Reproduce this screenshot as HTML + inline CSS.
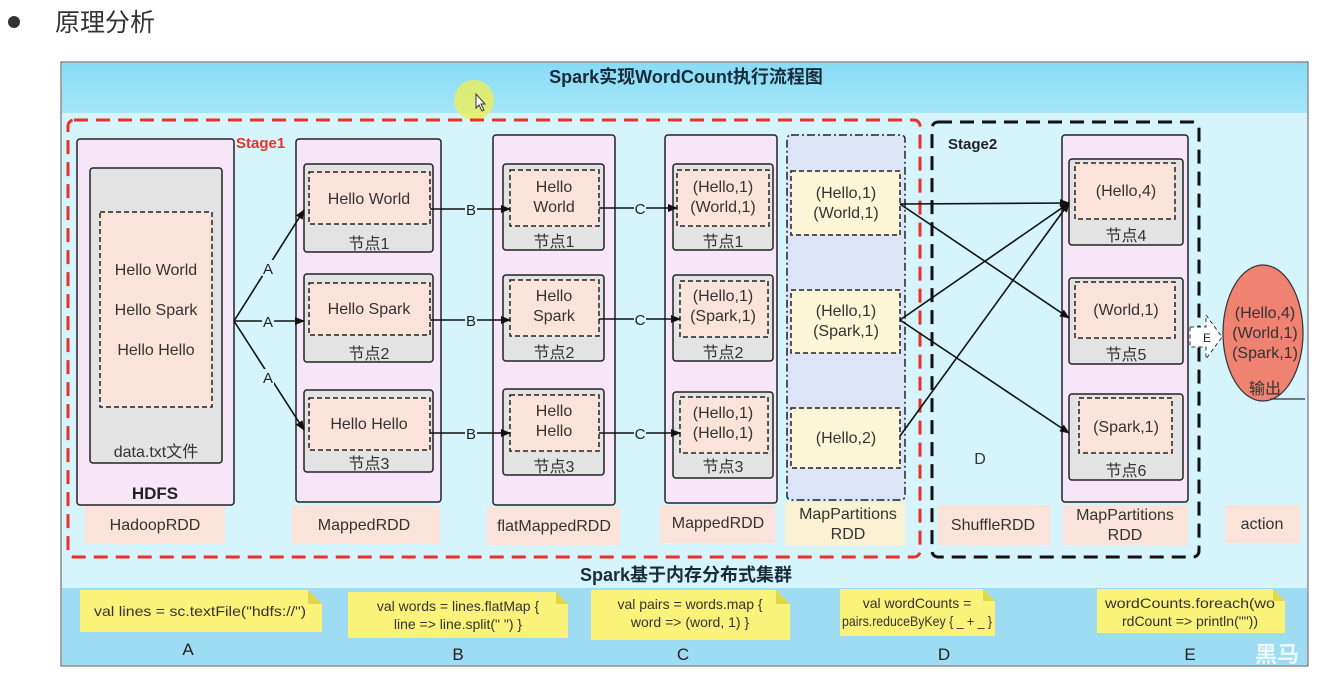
<!DOCTYPE html>
<html><head><meta charset="utf-8"><style>
body{margin:0;background:#fff;}
svg text{font-family:"Liberation Sans","Noto Sans CJK SC",sans-serif;}
</style></head><body>
<svg width="1329" height="674" viewBox="0 0 1329 674" xmlns="http://www.w3.org/2000/svg">
<defs>
<marker id="ah" markerWidth="10" markerHeight="8" refX="9" refY="4" orient="auto" markerUnits="userSpaceOnUse"><path d="M0,0 L10,4 L0,8 z" fill="#111"/></marker>
<linearGradient id="top" x1="0" y1="0" x2="0" y2="1"><stop offset="0" stop-color="#86dcf5"/><stop offset="1" stop-color="#a6e6f8"/></linearGradient>
</defs>
<rect width="1329" height="674" fill="#fff"/>
<circle cx="14" cy="22" r="6" fill="#333"/>
<text x="55" y="31" font-size="25" fill="#333">原理分析</text>
<rect x="61" y="62" width="1247" height="604" fill="#d6f4fc" stroke="#555" stroke-width="1"/>
<rect x="62" y="63" width="1245" height="50" fill="url(#top)"/>
<rect x="62" y="588" width="1245" height="77" fill="#9ddcf2"/>
<text x="686" y="83" font-size="18" font-weight="bold" text-anchor="middle" fill="#1a2a3a">Spark实现WordCount执行流程图</text>
<circle cx="474" cy="100" r="20" fill="#e8ee60" opacity="0.85"/>
<path d="M476,94 l0,14 l3,-3 l3,6 l2,-1 l-3,-6 l4,0 z" fill="#fff" stroke="#333" stroke-width="1"/>
<rect x="68" y="120" width="852" height="437" rx="6" fill="none" stroke="#e8312a" stroke-width="3" stroke-dasharray="14,8"/>
<text x="236" y="148" font-size="15" font-weight="bold" fill="#e8312a">Stage1</text>
<rect x="932" y="122" width="267" height="435" rx="6" fill="none" stroke="#111" stroke-width="3" stroke-dasharray="14,8"/>
<text x="948" y="149" font-size="15" font-weight="bold" fill="#222">Stage2</text>
<rect x="77" y="139" width="157" height="366" rx="3" fill="#f6e6f8" stroke="#222" stroke-width="1.5"/>
<rect x="90" y="168" width="132" height="295" rx="3" fill="#e3e3e3" stroke="#222" stroke-width="1.5"/>
<rect x="100" y="212" width="112" height="195" fill="#fbe3da" stroke="#222" stroke-width="1.5" stroke-dasharray="5,3"/>
<g font-size="16" fill="#333" text-anchor="middle">
<text x="156" y="275">Hello World</text><text x="156" y="315">Hello Spark</text><text x="156" y="355">Hello Hello</text>
<text x="156" y="457">data.txt文件</text>
</g>
<text x="155" y="499" font-size="17" font-weight="bold" text-anchor="middle" fill="#222">HDFS</text>
<rect x="296" y="139" width="145" height="363" rx="3" fill="#f6e6f8" stroke="#222" stroke-width="1.5"/>
<rect x="493" y="135" width="122" height="370" rx="3" fill="#f6e6f8" stroke="#222" stroke-width="1.5"/>
<rect x="665" y="135" width="112" height="368" rx="3" fill="#f6e6f8" stroke="#222" stroke-width="1.5"/>
<rect x="787" y="135" width="118" height="365" rx="4" fill="#dde4f8" stroke="#222" stroke-width="1.5" stroke-dasharray="8,3,2,3"/>
<rect x="1062" y="135" width="126" height="367" rx="3" fill="#f6e6f8" stroke="#222" stroke-width="1.5"/>
<g stroke="#222" stroke-width="1.5">
<rect x="304" y="164" width="129" height="88" rx="3" fill="#e3e3e3"/>
<rect x="304" y="274" width="129" height="88" rx="3" fill="#e3e3e3"/>
<rect x="304" y="390" width="129" height="82" rx="3" fill="#e3e3e3"/>
<rect x="503" y="164" width="101" height="86" rx="3" fill="#e3e3e3"/>
<rect x="503" y="275" width="101" height="86" rx="3" fill="#e3e3e3"/>
<rect x="503" y="389" width="101" height="86" rx="3" fill="#e3e3e3"/>
<rect x="673" y="164" width="100" height="86" rx="3" fill="#e3e3e3"/>
<rect x="673" y="275" width="100" height="86" rx="3" fill="#e3e3e3"/>
<rect x="673" y="392" width="100" height="86" rx="3" fill="#e3e3e3"/>
<rect x="1069" y="159" width="114" height="86" rx="3" fill="#e3e3e3"/>
<rect x="1069" y="278" width="114" height="86" rx="3" fill="#e3e3e3"/>
<rect x="1069" y="394" width="114" height="86" rx="3" fill="#e3e3e3"/>
</g>
<g stroke="#222" stroke-width="1.5" stroke-dasharray="5,3" fill="#fbe3da">
<rect x="309" y="172" width="121" height="52"/>
<rect x="309" y="283" width="121" height="52"/>
<rect x="309" y="398" width="121" height="52"/>
<rect x="510" y="170" width="89" height="56"/>
<rect x="510" y="280" width="89" height="56"/>
<rect x="510" y="395" width="89" height="56"/>
<rect x="677" y="170" width="92" height="56"/>
<rect x="680" y="281" width="88" height="56"/>
<rect x="680" y="397" width="88" height="56"/>
<rect x="1075" y="163" width="100" height="56"/>
<rect x="1075" y="282" width="100" height="56"/>
<rect x="1079" y="398" width="93" height="55"/>
<rect x="791" y="171" width="109" height="64" fill="#fdf6d6"/>
<rect x="791" y="290" width="109" height="63" fill="#fdf6d6"/>
<rect x="791" y="408" width="109" height="60" fill="#fdf6d6"/>
</g>
<g font-size="16" fill="#333" text-anchor="middle">
<text x="369" y="204">Hello World</text><text x="369" y="314">Hello Spark</text><text x="369" y="429">Hello Hello</text>
<text x="369" y="249">节点1</text><text x="369" y="359">节点2</text><text x="369" y="469">节点3</text>
<text x="554" y="192">Hello</text><text x="554" y="212">World</text>
<text x="554" y="301">Hello</text><text x="554" y="321">Spark</text>
<text x="554" y="416">Hello</text><text x="554" y="436">Hello</text>
<text x="554" y="247">节点1</text><text x="554" y="358">节点2</text><text x="554" y="472">节点3</text>
<text x="723" y="192">(Hello,1)</text><text x="723" y="212">(World,1)</text>
<text x="723" y="301">(Hello,1)</text><text x="723" y="321">(Spark,1)</text>
<text x="723" y="418">(Hello,1)</text><text x="723" y="438">(Hello,1)</text>
<text x="723" y="247">节点1</text><text x="723" y="358">节点2</text><text x="723" y="472">节点3</text>
<text x="846" y="198">(Hello,1)</text><text x="846" y="218">(World,1)</text>
<text x="846" y="316">(Hello,1)</text><text x="846" y="336">(Spark,1)</text>
<text x="846" y="443">(Hello,2)</text>
<text x="1126" y="196">(Hello,4)</text><text x="1126" y="315">(World,1)</text><text x="1126" y="432">(Spark,1)</text>
<text x="1126" y="241">节点4</text><text x="1126" y="360">节点5</text><text x="1126" y="476">节点6</text>
<text x="980" y="464">D</text>
</g>
<g stroke="#111" stroke-width="1.6" fill="none" marker-end="url(#ah)">
<path d="M234,321 L304,210"/><path d="M234,321 L304,321"/><path d="M234,321 L304,430"/>
<path d="M430,209 L510,209"/><path d="M430,320 L510,320"/><path d="M430,433 L510,433"/>
<path d="M599,208 L677,208"/><path d="M599,319 L680,319"/><path d="M599,433 L680,433"/>
<path d="M900,204 L1069,203"/><path d="M900,204 L1069,318"/><path d="M900,320 L1069,203"/><path d="M900,320 L1069,433"/><path d="M900,436 L1069,203"/>
</g>
<g font-size="15" fill="#222" text-anchor="middle">
<rect x="262" y="260" width="12" height="16" fill="#d6f4fc"/><text x="268" y="274">A</text>
<rect x="262" y="313" width="12" height="16" fill="#d6f4fc"/><text x="268" y="327">A</text>
<rect x="262" y="369" width="12" height="16" fill="#d6f4fc"/><text x="268" y="383">A</text>
<rect x="465" y="201" width="12" height="16" fill="#d6f4fc"/><text x="471" y="215">B</text>
<rect x="465" y="312" width="12" height="16" fill="#d6f4fc"/><text x="471" y="326">B</text>
<rect x="465" y="425" width="12" height="16" fill="#d6f4fc"/><text x="471" y="439">B</text>
<rect x="634" y="200" width="12" height="16" fill="#d6f4fc"/><text x="640" y="214">C</text>
<rect x="634" y="311" width="12" height="16" fill="#d6f4fc"/><text x="640" y="325">C</text>
<rect x="634" y="425" width="12" height="16" fill="#d6f4fc"/><text x="640" y="439">C</text>
</g>
<path d="M1190,327 L1206,327 L1206,315 L1222,337 L1206,359 L1206,347 L1190,347 z" fill="#fff" stroke="#333" stroke-width="1" stroke-dasharray="4,3"/>
<text x="1203" y="342" font-size="12" fill="#222">E</text>
<ellipse cx="1263" cy="333" rx="40" ry="68" fill="#f08272" stroke="#333" stroke-width="1.2"/>
<line x1="1270" y1="399" x2="1305" y2="399" stroke="#333" stroke-width="1.2"/>
<g font-size="16" fill="#333" text-anchor="middle">
<text x="1265" y="318">(Hello,4)</text><text x="1265" y="338">(World,1)</text><text x="1265" y="358">(Spark,1)</text>
<text x="1265" y="394">输出</text>
</g>
<g fill="#fbe3da">
<rect x="85" y="506" width="140" height="38"/><rect x="292" y="506" width="148" height="38"/>
<rect x="487" y="507" width="133" height="38"/><rect x="660" y="505" width="115" height="38"/>
<rect x="785" y="502" width="120" height="44" fill="#fbf2d3"/>
<rect x="938" y="505" width="112" height="40"/><rect x="1063" y="505" width="125" height="40"/>
<rect x="1225" y="505" width="75" height="38"/>
</g>
<g font-size="16" fill="#333" text-anchor="middle">
<text x="155" y="530">HadoopRDD</text><text x="364" y="530">MappedRDD</text>
<text x="554" y="531">flatMappedRDD</text><text x="718" y="528">MappedRDD</text>
<text x="848" y="519">MapPartitions</text><text x="848" y="539">RDD</text>
<text x="993" y="530">ShuffleRDD</text>
<text x="1125" y="520">MapPartitions</text><text x="1125" y="540">RDD</text>
<text x="1262" y="529">action</text>
</g>
<text x="686" y="581" font-size="18" font-weight="bold" text-anchor="middle" fill="#1a2a3a">Spark基于内存分布式集群</text>
<g fill="#fbf27a">
<path d="M80,590 L308,590 L322,604 L322,632 L80,632 z"/>
<path d="M348,592 L556,592 L568,604 L568,638 L348,638 z"/>
<path d="M591,590 L776,590 L790,604 L790,640 L591,640 z"/>
<path d="M840,589 L983,589 L995,601 L995,636 L840,636 z"/>
<path d="M1097,589 L1273,589 L1285,601 L1285,633 L1097,633 z"/>
</g>
<g fill="#e0d64a"><path d="M308,590 L322,604 L308,604 z"/><path d="M556,592 L568,604 L556,604 z"/><path d="M776,590 L790,604 L776,604 z"/><path d="M983,589 L995,601 L983,601 z"/><path d="M1273,589 L1285,601 L1273,601 z"/></g>
<g font-size="14" fill="#333" text-anchor="middle">
<text x="200" y="616" textLength="212" lengthAdjust="spacingAndGlyphs">val lines = sc.textFile("hdfs://")</text>
<text x="458" y="611">val words = lines.flatMap {</text><text x="458" y="629">line =&gt; line.split(" ") }</text>
<text x="690" y="609">val pairs = words.map {</text><text x="690" y="627">word =&gt; (word, 1) }</text>
<text x="917" y="608">val wordCounts =</text><text x="917" y="626" textLength="150" lengthAdjust="spacingAndGlyphs">pairs.reduceByKey { _ + _ }</text>
<text x="1190" y="608" textLength="170" lengthAdjust="spacingAndGlyphs">wordCounts.foreach(wo</text><text x="1190" y="626">rdCount =&gt; println(""))</text>
</g>
<g font-size="17" fill="#222" text-anchor="middle">
<text x="188" y="655">A</text><text x="458" y="660">B</text><text x="683" y="660">C</text><text x="944" y="660">D</text><text x="1190" y="660">E</text>
</g>
<text x="1255" y="662" font-size="22" font-weight="bold" fill="#fff" opacity="0.8">黑马</text>
</svg>
</body></html>
